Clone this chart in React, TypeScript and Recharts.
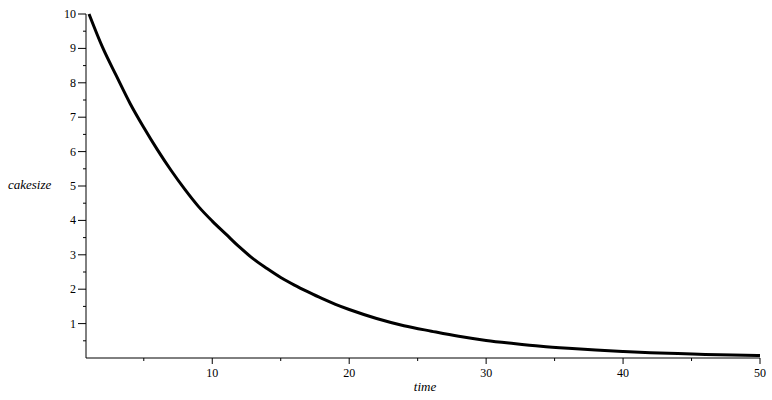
import React from 'react';
import { LineChart, Line, XAxis, YAxis } from 'recharts';

const times = [1, 2, 3, 4, 5, 6, 7, 8, 9, 10, 11, 12, 13, 14, 15, 16, 17, 18, 19, 20, 22, 24, 26, 28, 30, 32, 34, 36, 38, 40, 42, 44, 46, 48, 50];
const sizes = [10, 9.02, 8.2, 7.4, 6.7, 6.05, 5.45, 4.9, 4.4, 3.98, 3.6, 3.22, 2.88, 2.6, 2.34, 2.12, 1.92, 1.73, 1.56, 1.41, 1.15, 0.94, 0.78, 0.63, 0.51, 0.42, 0.34, 0.28, 0.23, 0.19, 0.155, 0.13, 0.105, 0.085, 0.07];

const xMajorTicks = [10, 20, 30, 40, 50];
const xMinorTicks = [5, 15, 25, 35, 45];
const yMajorTicks = [1, 2, 3, 4, 5, 6, 7, 8, 9, 10];
const yMinorTicks = [0.5, 1.5, 2.5, 3.5, 4.5, 5.5, 6.5, 7.5, 8.5, 9.5];
const xTitle = 'time';
const yTitle = 'cakesize';

const data = times.map((t, i) => ({ time: t, cakesize: sizes[i] }));
const xTicks = [...xMinorTicks, ...xMajorTicks].sort((a, b) => a - b);
const yTicks = [...yMinorTicks, ...yMajorTicks].sort((a, b) => a - b);

const FONT = 'Liberation Serif, DejaVu Serif, Times New Roman, serif';
const textStyle = { fontFamily: FONT } as React.CSSProperties;

const XTick = (props: any) => {
  const { x, y, payload } = props;
  const major = xMajorTicks.includes(payload.value);
  return (
    <g>
      <line x1={x} y1={y} x2={x} y2={y + (major ? 6 : 3)} stroke="#000" strokeWidth={1} />
      {major && (
        <text x={x} y={y + 19} textAnchor="middle" fontSize={12} style={textStyle} fill="#000">
          {payload.value}
        </text>
      )}
    </g>
  );
};

const YTick = (props: any) => {
  const { x, y, payload } = props;
  const major = yMajorTicks.includes(payload.value);
  return (
    <g>
      <line x1={x} y1={y} x2={x - (major ? 8 : 3)} y2={y} stroke="#000" strokeWidth={1} />
      {major && (
        <text x={x - 10} y={y + 4} textAnchor="end" fontSize={12} style={textStyle} fill="#000">
          {payload.value}
        </text>
      )}
    </g>
  );
};

const XTitle = (props: any) => {
  const vb = props.viewBox || {};
  return (
    <text x={vb.x + vb.width / 2 + 2} y={vb.y + 33} textAnchor="middle" fontSize={13} fontStyle="italic" style={textStyle} fill="#000">
      {xTitle}
    </text>
  );
};

const YTitle = (props: any) => {
  const vb = props.viewBox || {};
  return (
    <text x={vb.x + 8} y={vb.y + vb.height / 2 + 2.5} textAnchor="start" fontSize={13} fontStyle="italic" style={textStyle} fill="#000">
      {yTitle}
    </text>
  );
};

export default function App() {
  return (
    <div style={{ position: 'absolute', left: 0, top: 0, width: 772, height: 400, background: '#fff', fontFamily: FONT }}>
      <LineChart
        width={772}
        height={400}
        data={data}
        margin={{ top: 14, right: 12, bottom: 8, left: 0 }}
        style={{ fontFamily: FONT }}
      >
        <XAxis
          dataKey="time"
          type="number"
          domain={[0.78, 50]}
          ticks={xTicks}
          interval={0}
          height={34}
          tickSize={0}
          tickMargin={0}
          tickLine={false}
          axisLine={{ stroke: '#000', strokeWidth: 1 }}
          tick={<XTick />}
          label={<XTitle />}
        />
        <YAxis
          type="number"
          domain={[0, 10]}
          ticks={yTicks}
          interval={0}
          width={86}
          tickSize={0}
          tickMargin={0}
          tickLine={false}
          axisLine={{ stroke: '#000', strokeWidth: 1 }}
          tick={<YTick />}
          label={<YTitle />}
        />
        <Line
          type="monotone"
          dataKey="cakesize"
          stroke="#000"
          strokeWidth={3}
          dot={false}
          isAnimationActive={false}
        />
      </LineChart>
    </div>
  );
}
